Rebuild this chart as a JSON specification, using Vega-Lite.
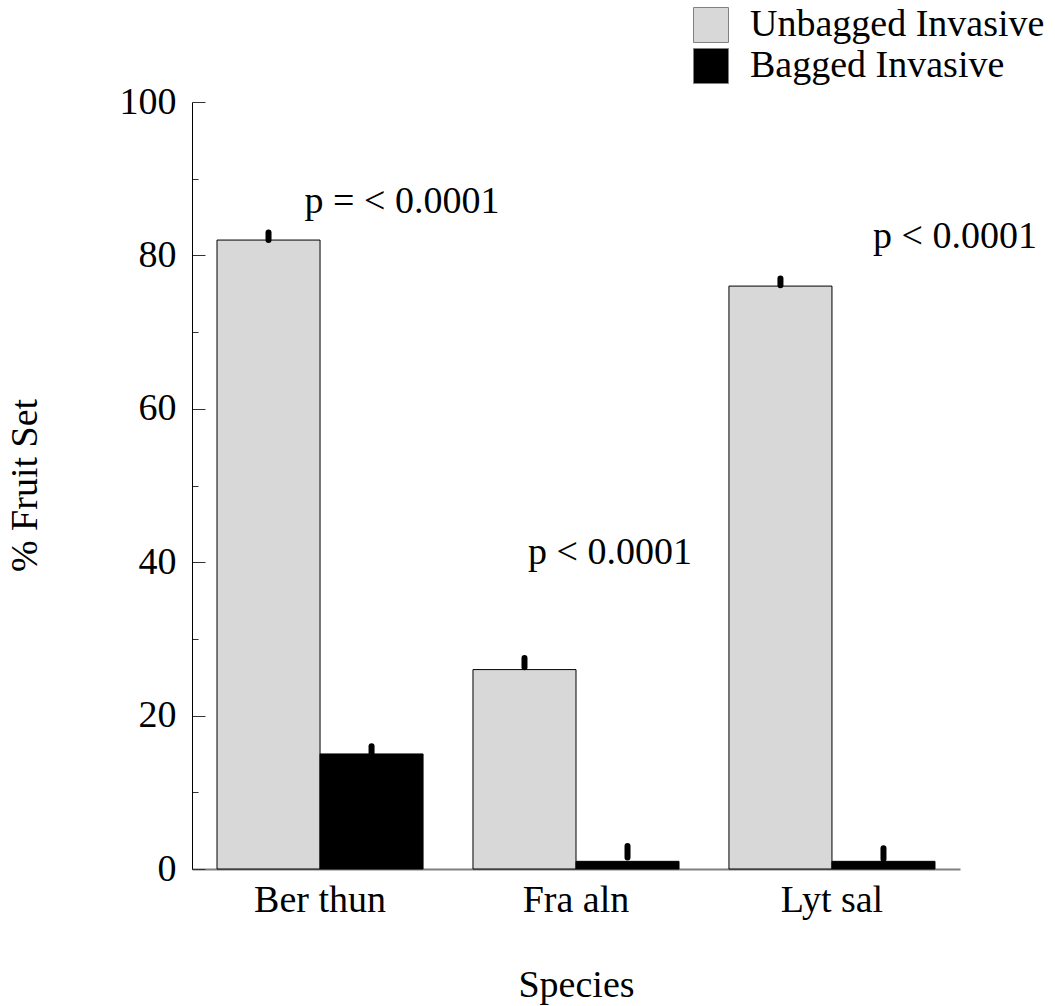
{
  "$schema": "https://vega.github.io/schema/vega-lite/v6.json",
  "width": 768,
  "height": 767,
  "autosize": "none",
  "padding": {"left": 192, "top": 102, "right": 95, "bottom": 137},
  "config": {
    "font": "Liberation Serif",
    "view": {"stroke": null},
    "axis": {"grid": false, "labelFont": "Liberation Serif", "titleFont": "Liberation Serif", "labelFontSize": 38, "titleFontSize": 38, "titleFontWeight": "normal", "labelColor": "black", "titleColor": "black"}
  },
  "datasets": {
    "bars": [
      {"species": "Ber thun", "group": "Unbagged Invasive", "value": 82, "lower": 82.0, "upper": 83.0},
      {"species": "Ber thun", "group": "Bagged Invasive", "value": 15, "lower": 15.0, "upper": 16.0},
      {"species": "Fra aln", "group": "Unbagged Invasive", "value": 26, "lower": 26.3, "upper": 27.5},
      {"species": "Fra aln", "group": "Bagged Invasive", "value": 1, "lower": 1.5, "upper": 3.0},
      {"species": "Lyt sal", "group": "Unbagged Invasive", "value": 76, "lower": 76.1, "upper": 77.0},
      {"species": "Lyt sal", "group": "Bagged Invasive", "value": 1, "lower": 1.3, "upper": 2.7}
    ]
  },
  "layer": [
    {
      "data": {"name": "bars"},
      "mark": {"type": "bar", "stroke": "black", "strokeWidth": 1},
      "encoding": {
        "x": {
          "field": "species", "type": "nominal",
          "scale": {"paddingInner": 0.195, "paddingOuter": 0.0977},
          "axis": {"title": "Species", "labelAngle": 0, "ticks": false, "domainColor": "#808080", "domainWidth": 2, "labelPadding": 12, "titlePadding": 47}
        },
        "xOffset": {"field": "group", "type": "nominal", "sort": ["Unbagged Invasive", "Bagged Invasive"], "scale": {"paddingInner": 0, "paddingOuter": 0}},
        "y": {
          "field": "value", "type": "quantitative",
          "scale": {"domain": [0, 100], "nice": false},
          "axis": {
            "orient": "right",
            "offset": -768,
            "title": "% Fruit Set",
            "titleX": -167,
            "titleY": 383,
            "titleAngle": 270,
            "titleAlign": "center",
            "titleBaseline": "middle",
            "values": [0, 5, 10, 15, 20, 25, 30, 35, 40, 45, 50, 55, 60, 65, 70, 75, 80, 85, 90, 95, 100],
            "labelExpr": "datum.value % 20 === 0 ? datum.label : ''",
            "labelAlign": "right",
            "tickSize": 13,
            "tickDash": {"condition": {"test": "datum.value % 20 === 0", "value": [20, 0]}, "value": [6, 30]},
            "tickColor": "#333333",
            "domainColor": "black",
            "labelPadding": -29
          }
        },
        "fill": {
          "field": "group", "type": "nominal",
          "scale": {"domain": ["Unbagged Invasive", "Bagged Invasive"], "range": ["#d8d8d8", "black"]},
          "legend": {
            "title": null, "orient": "none", "legendX": 500, "legendY": -96,
            "symbolType": "square", "symbolSize": 1225, "symbolStrokeColor": "#808080", "symbolStrokeWidth": 1,
            "labelFontSize": 38, "labelFont": "Liberation Serif", "labelColor": "black", "labelOffset": 20, "rowPadding": 1, "labelLimit": 400
          }
        }
      }
    },
    {
      "data": {"name": "bars"},
      "mark": {"type": "rule", "color": "black", "strokeWidth": 6, "strokeCap": "round"},
      "encoding": {
        "x": {"field": "species", "type": "nominal"},
        "xOffset": {"field": "group", "type": "nominal", "sort": ["Unbagged Invasive", "Bagged Invasive"]},
        "y": {"field": "lower", "type": "quantitative"},
        "y2": {"field": "upper"}
      }
    },
    {
      "data": {"values": [{"species": "Ber thun", "label": "p = < 0.0001"}]},
      "mark": {"type": "text", "fontSize": 38, "align": "center", "baseline": "middle", "dx": 82},
      "encoding": {"x": {"field": "species", "type": "nominal"}, "y": {"datum": 87}, "text": {"field": "label"}}
    },
    {
      "data": {"values": [{"species": "Fra aln", "label": "p < 0.0001"}]},
      "mark": {"type": "text", "fontSize": 38, "align": "center", "baseline": "middle", "dx": 34},
      "encoding": {"x": {"field": "species", "type": "nominal"}, "y": {"datum": 41.2}, "text": {"field": "label"}}
    },
    {
      "data": {"values": [{"species": "Lyt sal", "label": "p < 0.0001"}]},
      "mark": {"type": "text", "fontSize": 38, "align": "center", "baseline": "middle", "dx": 123},
      "encoding": {"x": {"field": "species", "type": "nominal"}, "y": {"datum": 82.4}, "text": {"field": "label"}}
    }
  ]
}
